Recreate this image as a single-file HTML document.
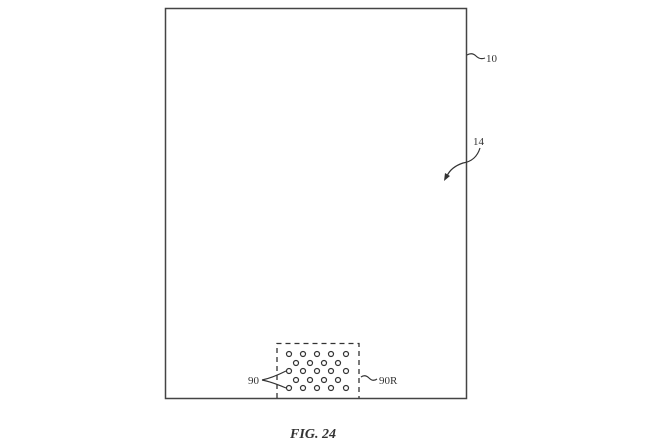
<!DOCTYPE html>
<html><head><style>html,body{margin:0;padding:0;background:#fff;width:660px;height:443px;overflow:hidden}</style></head>
<body>
<svg width="660" height="443" viewBox="0 0 660 443" xmlns="http://www.w3.org/2000/svg">
<rect x="165.5" y="8.5" width="301" height="390" fill="none" stroke="#444" stroke-width="1.5"/>
<path d="M277 398 V343.5 H359 V398" fill="none" stroke="#333" stroke-width="1.3" stroke-dasharray="5,4"/>
<g fill="none" stroke="#333" stroke-width="1.2">
<circle cx="289" cy="354" r="2.5"/><circle cx="303" cy="354" r="2.5"/><circle cx="317" cy="354" r="2.5"/><circle cx="331" cy="354" r="2.5"/><circle cx="346" cy="354" r="2.5"/>
<circle cx="296" cy="363" r="2.5"/><circle cx="310" cy="363" r="2.5"/><circle cx="324" cy="363" r="2.5"/><circle cx="338" cy="363" r="2.5"/>
<circle cx="289" cy="371" r="2.5"/><circle cx="303" cy="371" r="2.5"/><circle cx="317" cy="371" r="2.5"/><circle cx="331" cy="371" r="2.5"/><circle cx="346" cy="371" r="2.5"/>
<circle cx="296" cy="380" r="2.5"/><circle cx="310" cy="380" r="2.5"/><circle cx="324" cy="380" r="2.5"/><circle cx="338" cy="380" r="2.5"/>
<circle cx="289" cy="388" r="2.5"/><circle cx="303" cy="388" r="2.5"/><circle cx="317" cy="388" r="2.5"/><circle cx="331" cy="388" r="2.5"/><circle cx="346" cy="388" r="2.5"/>
<path d="M262 380 Q272 378 286 371 M262 380 Q272 382 286 388"/>
<path d="M361 377 Q365 374 369 378 Q373 382 377 379"/>
<path d="M467 55 Q472 52 476 56 Q480 60 485 58"/>
<path d="M480 148 Q476 161 463 163 Q451 167 447 176"/>
</g>
<path d="M444 181 L445 173 L450 176 Z" fill="#333"/>
<g font-family="Liberation Serif, serif" font-size="11" fill="#333">
<text x="248" y="384">90</text>
<text x="379" y="384">90R</text>
<text x="486" y="62">10</text>
<text x="473" y="145">14</text>
</g>
<text x="313" y="438" text-anchor="middle" font-family="Liberation Serif, serif" font-size="14" font-style="italic" font-weight="bold" fill="#333">FIG. 24</text>
</svg>
</body></html>
